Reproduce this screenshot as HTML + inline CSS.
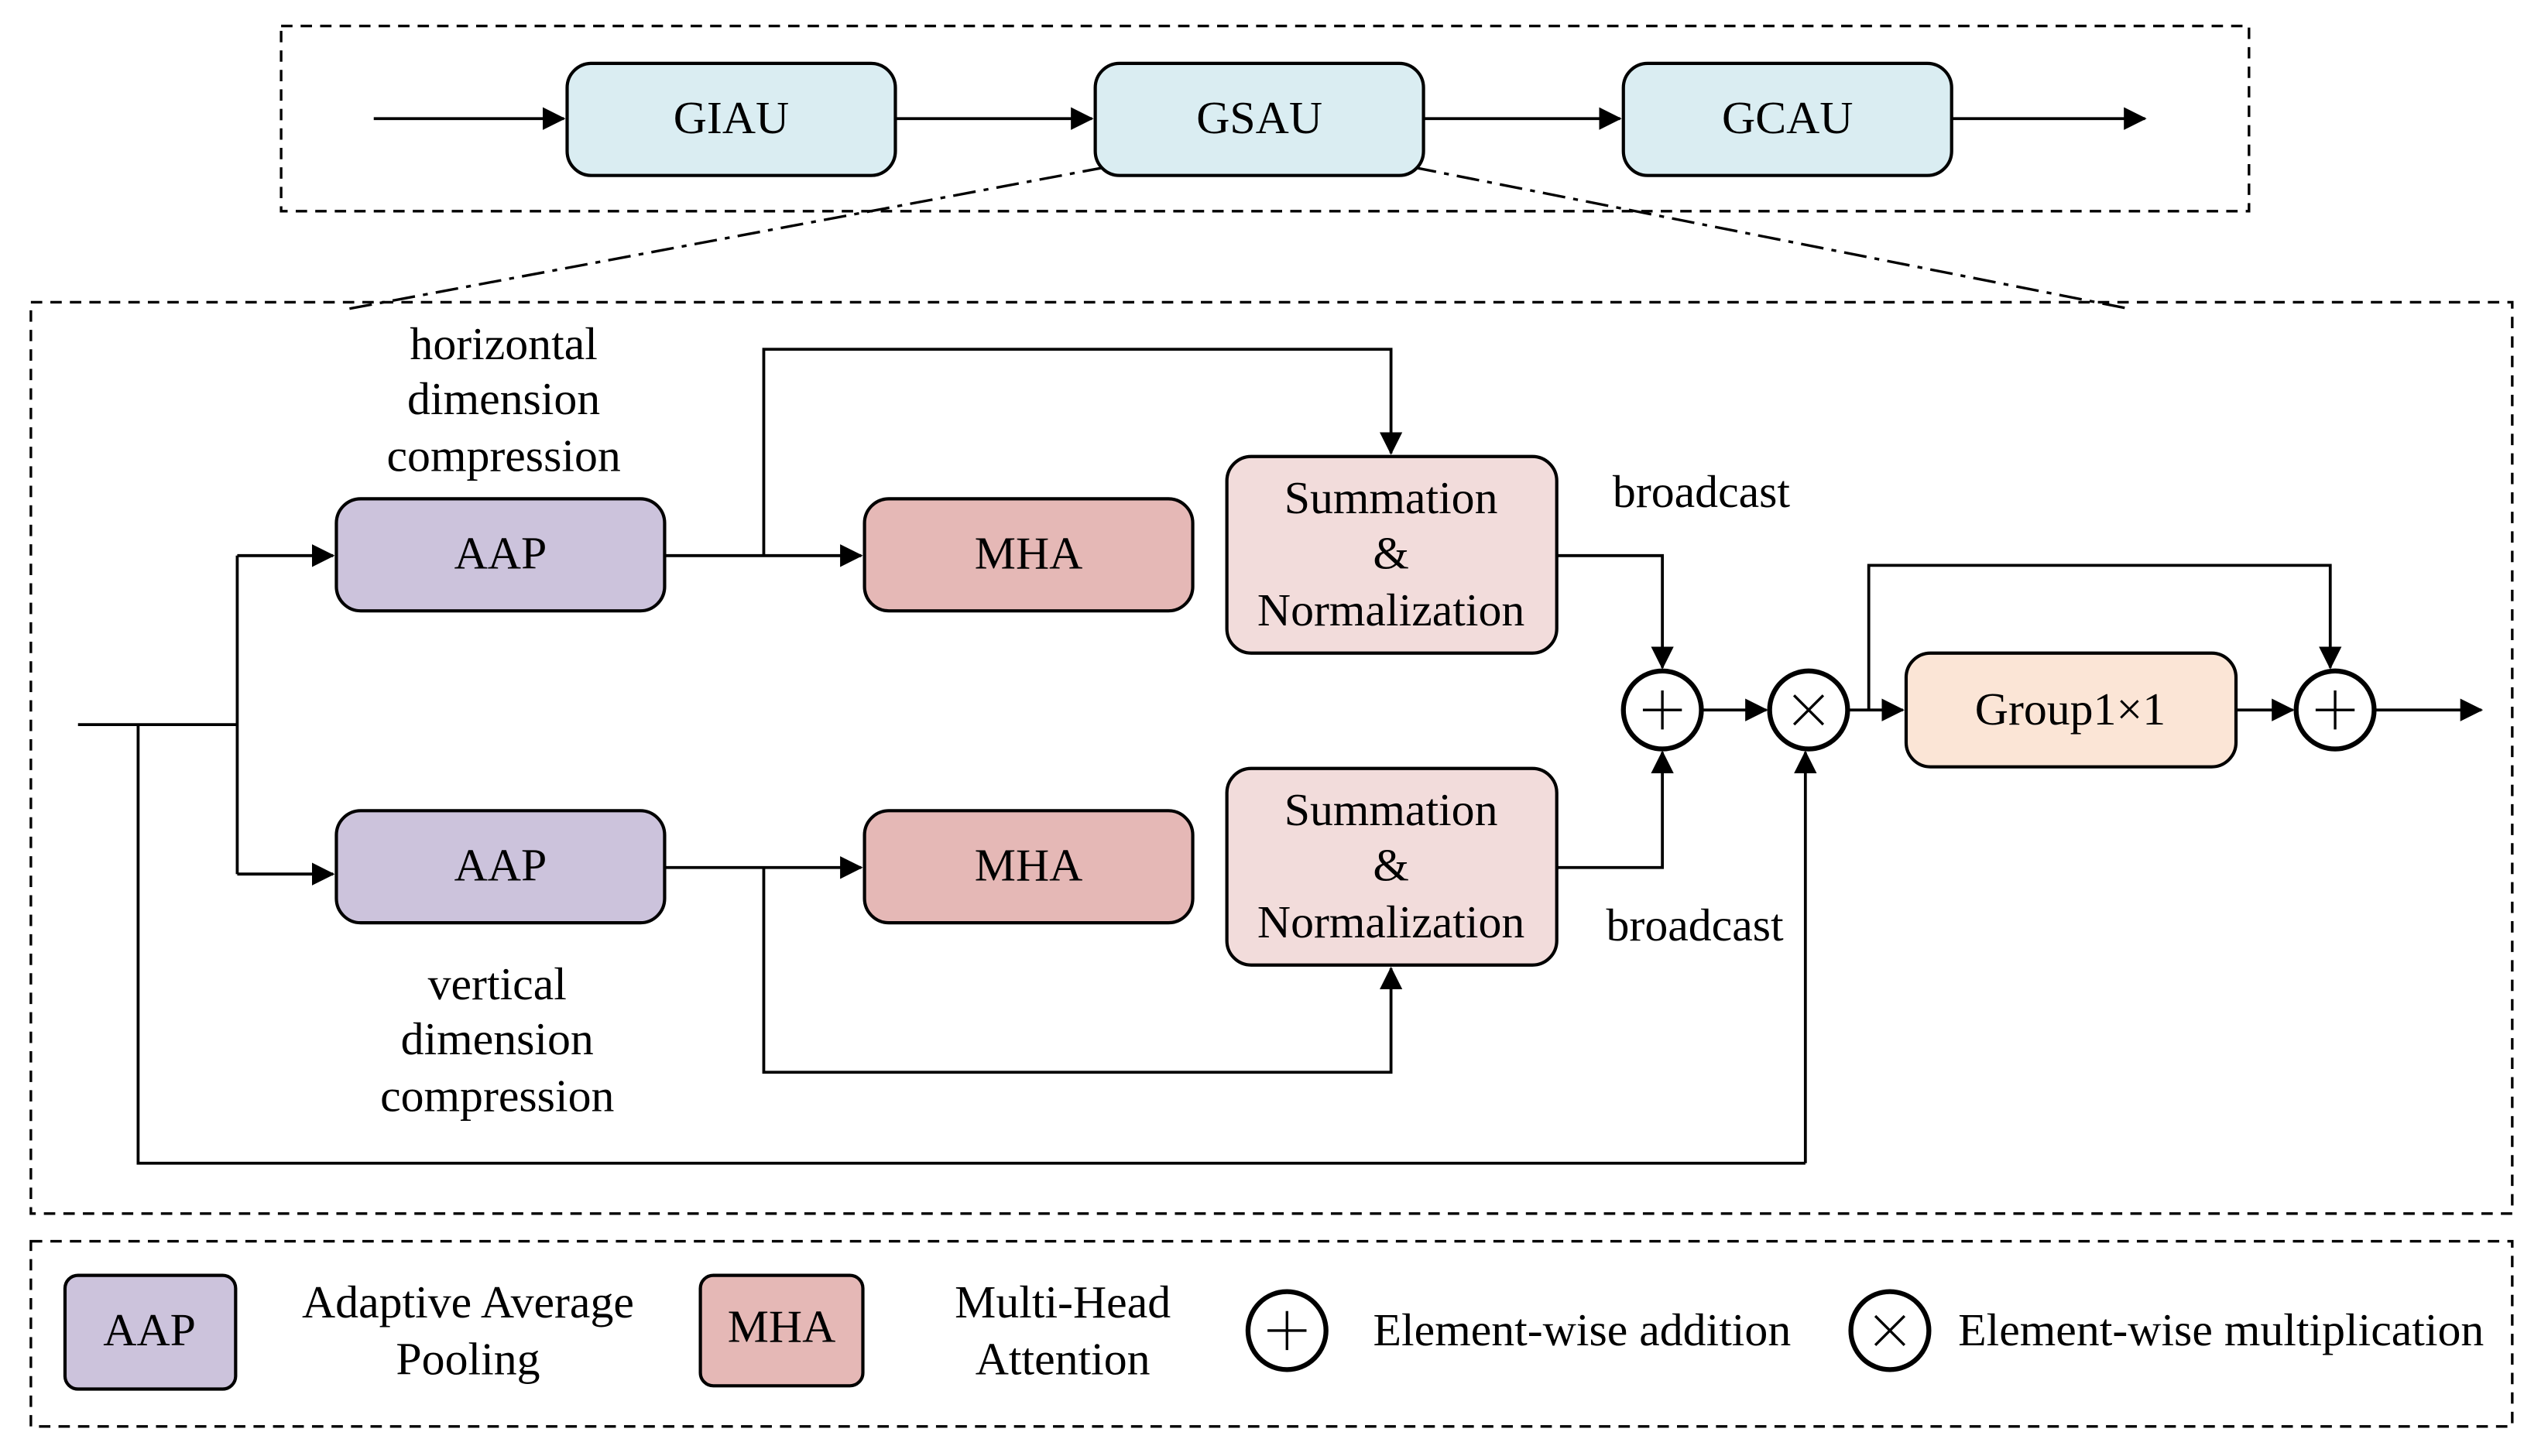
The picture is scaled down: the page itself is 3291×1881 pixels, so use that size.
<!DOCTYPE html>
<html><head><meta charset="utf-8"><style>
html,body{margin:0;padding:0;background:#fff;}
svg{display:block;}
text{font-family:"Liberation Serif",serif;font-size:28.5px;fill:#000;}
</style></head><body>
<svg width="3291" height="1881" viewBox="0 0 1568 896.2" preserveAspectRatio="none" xmlns="http://www.w3.org/2000/svg">
<defs>
<marker id="a" markerWidth="14" markerHeight="14" refX="13" refY="7" orient="auto" markerUnits="userSpaceOnUse" viewBox="0 0 14 14"><path d="M0,0 L14,7 L0,14 z" fill="#000"/></marker>
</defs>
<g fill="none" stroke="#000" stroke-width="1.6">
<rect x="173" y="16" width="1211" height="114" stroke-dasharray="7,5"/>
<rect x="19" y="186" width="1527" height="561" stroke-dasharray="7,5"/>
<rect x="19" y="764" width="1527" height="114" stroke-dasharray="7,5"/>
<path d="M680,103 L215,190 M870,103 L1310,190" stroke-dasharray="14,5,3,5"/>
</g>
<g stroke="#000" stroke-width="2">
<rect x="349" y="39" width="202" height="69" rx="15" fill="#daedf2"/>
<rect x="674" y="39" width="202" height="69" rx="15" fill="#daedf2"/>
<rect x="999" y="39" width="202" height="69" rx="15" fill="#daedf2"/>
<rect x="207" y="307" width="202" height="69" rx="15" fill="#ccc3dc"/>
<rect x="532" y="307" width="202" height="69" rx="15" fill="#e5b8b6"/>
<rect x="755" y="281" width="203" height="121" rx="15" fill="#f2dcdb"/>
<rect x="207" y="499" width="202" height="69" rx="15" fill="#ccc3dc"/>
<rect x="532" y="499" width="202" height="69" rx="15" fill="#e5b8b6"/>
<rect x="755" y="473" width="203" height="121" rx="15" fill="#f2dcdb"/>
<rect x="1173" y="402" width="203" height="70" rx="15" fill="#fbe5d6"/>
<rect x="40" y="785" width="105" height="70" rx="8" fill="#ccc3dc"/>
<rect x="431" y="785" width="100" height="68" rx="8" fill="#e5b8b6"/>
</g>
<g fill="none" stroke="#000" stroke-width="1.8">
<path d="M230,73 H347" marker-end="url(#a)"/>
<path d="M551,73 H672" marker-end="url(#a)"/>
<path d="M876,73 H997" marker-end="url(#a)"/>
<path d="M1201,73 H1320" marker-end="url(#a)"/>
<path d="M48,446 H146 M146,342 V538"/>
<path d="M146,342 H205" marker-end="url(#a)"/>
<path d="M146,538 H205" marker-end="url(#a)"/>
<path d="M85,446 V716 H1111"/>
<path d="M1111,716 V463" marker-end="url(#a)"/>
<path d="M409,342 H530" marker-end="url(#a)"/>
<path d="M470,342 V215 H856 V279" marker-end="url(#a)"/>
<path d="M409,534 H530" marker-end="url(#a)"/>
<path d="M470,534 V660 H856 V596" marker-end="url(#a)"/>
<path d="M958,342 H1023 V411" marker-end="url(#a)"/>
<path d="M958,534 H1023 V463" marker-end="url(#a)"/>
<path d="M1047,437 H1087" marker-end="url(#a)"/>
<path d="M1137,437 H1171" marker-end="url(#a)"/>
<path d="M1150,437 V348 H1434 V411" marker-end="url(#a)"/>
<path d="M1376,437 H1411" marker-end="url(#a)"/>
<path d="M1461,437 H1527" marker-end="url(#a)"/>
</g>
<g fill="#fff" stroke="#000" stroke-width="3">
<circle cx="1023" cy="437" r="24"/><circle cx="1113" cy="437" r="24"/><circle cx="1437" cy="437" r="24"/>
<circle cx="792" cy="819" r="24"/><circle cx="1163" cy="819" r="24"/>
</g>
<g stroke="#000" stroke-width="1.6">
<path d="M1011,437 H1035 M1023,425 V449"/>
<path d="M1425,437 H1449 M1437,425 V449"/>
<path d="M780,819 H804 M792,807 V831"/>
<path d="M1104,428 L1122,446 M1122,428 L1104,446"/>
<path d="M1154,810 L1172,828 M1172,810 L1154,828"/>
</g>
<g text-anchor="middle">
<text x="450" y="82">GIAU</text><text x="775" y="82">GSAU</text><text x="1100" y="82">GCAU</text>
<text x="308" y="350">AAP</text><text x="633" y="350">MHA</text>
<text x="308" y="542">AAP</text><text x="633" y="542">MHA</text>
<text x="856" y="316">Summation</text><text x="856" y="350">&amp;</text><text x="856" y="385">Normalization</text>
<text x="856" y="508">Summation</text><text x="856" y="542">&amp;</text><text x="856" y="577">Normalization</text>
<text x="1274" y="446">Group1×1</text>
<text x="310" y="221">horizontal</text><text x="310" y="255">dimension</text><text x="310" y="290">compression</text>
<text x="306" y="615">vertical</text><text x="306" y="649">dimension</text><text x="306" y="684">compression</text>
<text x="1047" y="312">broadcast</text><text x="1043" y="579">broadcast</text>
<text x="92" y="828">AAP</text><text x="481" y="826">MHA</text>
<text x="288" y="811">Adaptive Average</text><text x="288" y="846">Pooling</text>
<text x="654" y="811">Multi-Head</text><text x="654" y="846">Attention</text>
</g>
<text x="845" y="828">Element-wise addition</text>
<text x="1205" y="828">Element-wise multiplication</text>
</svg>
</body></html>
